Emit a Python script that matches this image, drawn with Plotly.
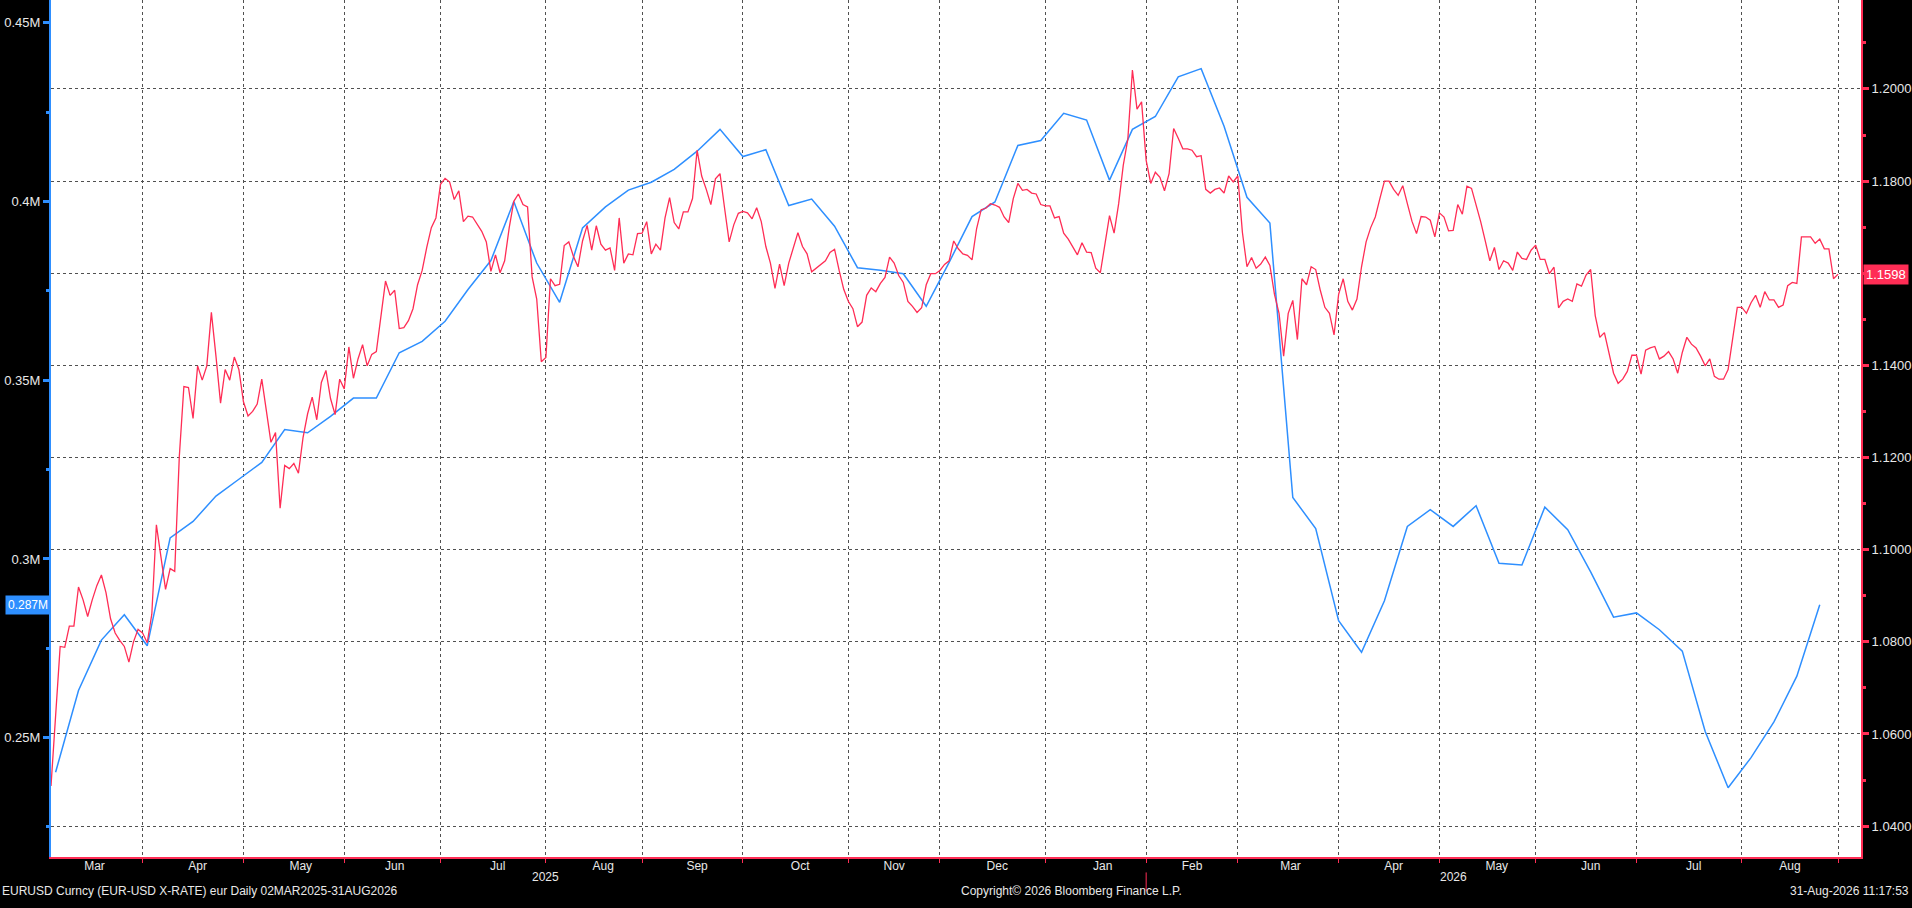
import plotly.graph_objects as go
import pandas as pd

# EUR-USD spot, one close per weekday starting 03MAR2025
eurusd_part1 = [
    1.0487, 1.0642, 1.0790, 1.0788, 1.0834, 1.0834, 1.0919, 1.0891, 1.0855, 1.0891,
    1.0922, 1.0945, 1.0907, 1.0850, 1.0819, 1.0803, 1.0790, 1.0756, 1.0800, 1.0827,
    1.0819, 1.0798, 1.0860, 1.1054, 1.0984, 1.0914, 1.0959, 1.0953, 1.1202, 1.1354,
    1.1352, 1.1285, 1.1399, 1.1368, 1.1399, 1.1515, 1.1420, 1.1318, 1.1391, 1.1368,
    1.1418, 1.1391, 1.1321, 1.1290, 1.1300, 1.1316, 1.1370, 1.1300, 1.1233, 1.1254,
    1.1090, 1.1183, 1.1176, 1.1187, 1.1166, 1.1243, 1.1295, 1.1331, 1.1282, 1.1363,
    1.1389, 1.1328, 1.1293, 1.1370, 1.1349, 1.1440, 1.1372, 1.1414, 1.1445, 1.1399,
    1.1424, 1.1430, 1.1505, 1.1583, 1.1552, 1.1563, 1.1480, 1.1482, 1.1497, 1.1523,
    1.1575, 1.1606, 1.1656, 1.1699, 1.1720, 1.1793, 1.1806, 1.1798, 1.1760, 1.1779,
    1.1712, 1.1724, 1.1722, 1.1705, 1.1691, 1.1668, 1.1604, 1.1640, 1.1601, 1.1627,
    1.1699, 1.1756, 1.1772, 1.1749, 1.1744, 1.1592, 1.1544, 1.1408, 1.1417, 1.1588,
    1.1573, 1.1576, 1.1660, 1.1668, 1.1637, 1.1614, 1.1670, 1.1704, 1.1650, 1.1703,
    1.1663, 1.1650, 1.1655, 1.1606, 1.1720, 1.1622, 1.1642, 1.1640, 1.1686, 1.1687,
    1.1712, 1.1642, 1.1663, 1.1650, 1.1720, 1.1764, 1.1710, 1.1696, 1.1733, 1.1733,
    1.1762, 1.1867, 1.1811, 1.1782, 1.1749, 1.1805, 1.1816, 1.1741, 1.1668, 1.1705,
    1.1730, 1.1734, 1.1731, 1.1718, 1.1742, 1.1712, 1.1658, 1.1622, 1.1567, 1.1620,
    1.1573, 1.1622, 1.1656, 1.1688, 1.1658, 1.1642, 1.1603, 1.1611, 1.1619, 1.1627,
    1.1645, 1.1652, 1.1606, 1.1565, 1.1539, 1.1523, 1.1484, 1.1494, 1.1552, 1.1568,
    1.1560, 1.1578, 1.1591, 1.1635, 1.1622, 1.1595, 1.1580, 1.1539, 1.1528, 1.1515,
    1.1525, 1.1575, 1.1599, 1.1599, 1.1606, 1.1619, 1.1627, 1.1670, 1.1653,
]
eurusd_part2 = [
    1.1642, 1.1639, 1.1629, 1.1697, 1.1738, 1.1741, 1.1751, 1.1748, 1.1743, 1.1722,
    1.1710, 1.1762, 1.1795, 1.1780, 1.1782, 1.1774, 1.1772, 1.1749, 1.1746, 1.1746,
    1.1720, 1.1723, 1.1687, 1.1674, 1.1658, 1.1640, 1.1666, 1.1646, 1.1645, 1.1611,
    1.1601, 1.1663, 1.1725, 1.1687, 1.1751, 1.1834, 1.1891, 1.2041, 1.1956, 1.1972,
    1.1845, 1.1795, 1.1819, 1.1808, 1.1779, 1.1816, 1.1914, 1.1893, 1.1870, 1.1870,
    1.1867, 1.1853, 1.1855, 1.1782, 1.1774, 1.1782, 1.1785, 1.1774, 1.1811, 1.1798,
    1.1811, 1.1689, 1.1614, 1.1634, 1.1611, 1.1620, 1.1635, 1.1617, 1.1554, 1.1513,
    1.1420, 1.1513, 1.1541, 1.1456, 1.1588, 1.1575, 1.1614, 1.1608, 1.1563, 1.1526,
    1.1513, 1.1466, 1.1554, 1.1588, 1.1539, 1.1520, 1.1544, 1.1614, 1.1668, 1.1699,
    1.1722, 1.1762, 1.1800, 1.1800, 1.1782, 1.1769, 1.1790, 1.1751, 1.1713, 1.1686,
    1.1723, 1.1722, 1.1715, 1.1679, 1.1731, 1.1722, 1.1692, 1.1693, 1.1749, 1.1728,
    1.1789, 1.1784, 1.1749, 1.1712, 1.1670, 1.1627, 1.1656, 1.1608, 1.1627, 1.1622,
    1.1606, 1.1646, 1.1632, 1.1630, 1.1650, 1.1661, 1.1630, 1.1630, 1.1599, 1.1613,
    1.1525, 1.1539, 1.1544, 1.1539, 1.1577, 1.1572, 1.1596, 1.1608, 1.1508, 1.1461,
    1.1471, 1.1425, 1.1383, 1.1361, 1.1370, 1.1387, 1.1422, 1.1422, 1.1381, 1.1433,
    1.1438, 1.1441, 1.1414, 1.1420, 1.1430, 1.1414, 1.1383, 1.1428, 1.1461, 1.1446,
    1.1438, 1.1420, 1.1399, 1.1414, 1.1376, 1.1370, 1.1370, 1.1391, 1.1461, 1.1526,
    1.1526, 1.1513, 1.1536, 1.1552, 1.1526, 1.1560, 1.1542, 1.1542, 1.1526, 1.1531,
    1.1573, 1.1580, 1.1578, 1.1679, 1.1679, 1.1679, 1.1665, 1.1674, 1.1653, 1.1653,
    1.1588, 1.1598,
]

# weekly "eur" series in millions (Tuesdays)
eur_weekly = [
    0.2403, 0.2632, 0.2773, 0.2844, 0.2757, 0.3059, 0.3105, 0.3176, 0.3223, 0.3270,
    0.3362, 0.3353, 0.3399, 0.3450, 0.3450, 0.3577, 0.3609, 0.3665, 0.3754, 0.3835,
    0.4000, 0.3828, 0.3718, 0.3926, 0.3985, 0.4032, 0.4054, 0.4090, 0.4141, 0.4202,
    0.4126, 0.4145, 0.3989, 0.4007, 0.3931, 0.3815, 0.3808, 0.3798, 0.3707, 0.3830,
    0.3958, 0.3999, 0.4157, 0.4171, 0.4247, 0.4228, 0.4060, 0.4202, 0.4238, 0.4349,
    0.4372, 0.4211, 0.4012, 0.3940, 0.3172, 0.3085, 0.2827, 0.2739, 0.2883, 0.3091,
    0.3138, 0.3091, 0.3149, 0.2988, 0.2983, 0.3145, 0.3082, 0.2964, 0.2837, 0.2849,
    0.2802, 0.2742, 0.2517, 0.2360, 0.2444, 0.2544, 0.2672, 0.2872,
]

left_ticks = [0.25, 0.3, 0.35, 0.4, 0.45]
left_labels = ["0.25M", "0.3M", "0.35M", "0.4M", "0.45M"]
right_ticks = [1.04, 1.06, 1.08, 1.10, 1.12, 1.14, 1.16, 1.18, 1.20]

RED = "#ff2d55"
BLUE = "#2e8fff"
GRID = "#505050"
LABEL = "#e8e8e8"
FONT = "Liberation Sans"

eurusd = eurusd_part1 + eurusd_part2
eurusd_dates = pd.bdate_range("2025-03-03", "2026-08-31")
eur_dates = pd.date_range("2025-03-04", periods=len(eur_weekly), freq="7D")

# bloomberg puts the month gridline on the last trading day of each month
month_ends = list(pd.Series(eurusd_dates).groupby(eurusd_dates.to_period("M")).max())

# the last value tag sits over the nearest right axis label, so that label is left blank
right_labels = ["" if abs(t - eurusd[-1]) < 0.005 else f"{t:.4f}" for t in right_ticks]

x_range = ["2025-03-03", "2026-09-07"]
# the label axis starts on the weekend before, so the Mar label is kept
label_range = ["2025-03-01", "2026-09-07"]
breaks = [dict(bounds=["sat", "mon"])]

fig = go.Figure()
fig.add_trace(go.Scatter(x=eur_dates, y=eur_weekly, mode="lines", name="eur",
                         line=dict(color=BLUE, width=1.5), xaxis="x", yaxis="y"))
fig.add_trace(go.Scatter(x=eurusd_dates, y=eurusd, mode="lines", name="EURUSD",
                         line=dict(color=RED, width=1.3), xaxis="x", yaxis="y2"))
# empty trace so the month label axis gets drawn
fig.add_trace(go.Scatter(x=[eurusd_dates[0], eurusd_dates[-1]], y=[eurusd[0], eurusd[-1]],
                         mode="none", hoverinfo="skip", xaxis="x2", yaxis="y2"))

fig.update_layout(
    width=1912, height=908,
    margin=dict(l=51, r=51, t=0, b=51),
    paper_bgcolor="black", plot_bgcolor="white",
    showlegend=False,
    font=dict(family=FONT, size=12, color=LABEL),
    xaxis=dict(type="date", range=x_range, rangebreaks=breaks,
               tickvals=month_ends, showticklabels=False,
               ticks="outside", ticklen=4, tickcolor=RED, tickwidth=1,
               showgrid=True, gridcolor=GRID, griddash="dot", gridwidth=1,
               showline=True, linecolor=RED, linewidth=2, zeroline=False),
    xaxis2=dict(type="date", range=label_range, rangebreaks=breaks, overlaying="x",
                anchor="y", side="bottom", dtick="M1", tick0="2025-03-01",
                tickformat="%b", ticklabelmode="period", ticks="",
                showgrid=False, showline=False, zeroline=False,
                tickfont=dict(family=FONT, size=12, color=LABEL)),
    yaxis=dict(range=[0.2166, 0.4564], tickvals=left_ticks, ticktext=left_labels,
               ticks="outside", ticklen=6, tickwidth=3, tickcolor=BLUE,
               minor=dict(ticks="outside", ticklen=3, tickcolor=BLUE, dtick=0.025, tick0=0,
                          showgrid=False),
               showgrid=False, zeroline=False,
               showline=True, linecolor=BLUE, linewidth=2,
               tickfont=dict(family=FONT, size=13, color=LABEL)),
    yaxis2=dict(range=[1.0333, 1.2193], overlaying="y", side="right", anchor="x",
                tickvals=right_ticks, ticktext=right_labels,
                ticks="outside", ticklen=6, tickwidth=3, tickcolor=RED,
                minor=dict(ticks="outside", ticklen=3, tickcolor=RED, dtick=0.01, tick0=1.0,
                           showgrid=False),
                showgrid=True, gridcolor=GRID, griddash="dot", gridwidth=1,
                zeroline=False, showline=True, linecolor=RED, linewidth=2,
                tickfont=dict(family=FONT, size=13, color=LABEL)),
)

# year row under the month labels, split at the turn of the year
year_split = month_ends[10]
fig.add_shape(type="line", xref="x", yref="paper", x0=year_split, x1=year_split,
              y0=-0.018, y1=-0.040, line=dict(color=RED, width=1))
fig.add_annotation(x="2025-07-31", xref="x", y=-0.034, yref="paper", text="2025",
                   showarrow=False, font=dict(size=12, color=LABEL))
fig.add_annotation(x="2026-05-05", xref="x", y=-0.034, yref="paper", text="2026",
                   showarrow=False, font=dict(size=12, color=LABEL))

# last value tags on both axes
fig.add_annotation(x=0, xref="paper", xanchor="right", y=eur_weekly[-1], yref="y",
                   text=f"{eur_weekly[-1]:.3f}M", showarrow=False, bgcolor=BLUE,
                   borderpad=2, font=dict(size=12, color="white"))
fig.add_annotation(x=1, xref="paper", xanchor="left", y=eurusd[-1], yref="y2",
                   text=f"{eurusd[-1]:.4f}", showarrow=False, bgcolor=RED,
                   borderpad=2, xshift=2, font=dict(size=13, color="white"))

# footer
footer_y = -0.050
fig.add_annotation(x=0, xref="paper", xanchor="left", y=footer_y, yref="paper",
                   text="EURUSD Curncy (EUR-USD X-RATE) eur Daily 02MAR2025-31AUG2026",
                   showarrow=False, xshift=-51, font=dict(size=12, color=LABEL))
fig.add_annotation(x=0.564, xref="paper", y=footer_y, yref="paper",
                   text="Copyright© 2026 Bloomberg Finance L.P.",
                   showarrow=False, font=dict(size=12, color=LABEL))
fig.add_annotation(x=1, xref="paper", xanchor="right", y=footer_y, yref="paper",
                   text="31-Aug-2026 11:17:53", showarrow=False, xshift=50,
                   font=dict(size=12, color=LABEL))

# page body has a default margin, drop it so the figure fills the window
fig.write_html("out.html", config={"displayModeBar": False},
               post_script="document.body.style.margin='0';"
                           "document.body.style.background='black';")
